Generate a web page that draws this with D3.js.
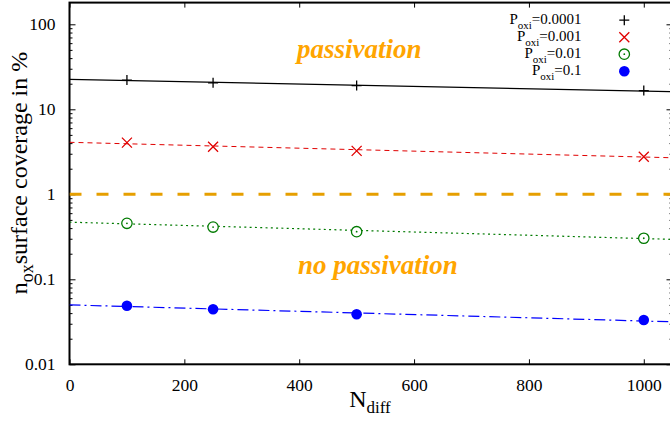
<!DOCTYPE html>
<html>
<head>
<meta charset="utf-8">
<script src="https://cdnjs.cloudflare.com/ajax/libs/d3/7.8.5/d3.min.js"></script>
<style>
  body { margin: 0; background: #fff; }
</style>
</head>
<body>
<svg id="chart"></svg>
<script>
// values
var nDiff = [100, 250, 500, 1000];
var pLabels = ["0.0001", "0.001", "0.01", "0.1"];
var cov0001 = [22.1, 20.5, 19.0, 16.6];
var cov001  = [4.05, 3.63, 3.24, 2.77];
var cov01   = [0.456, 0.412, 0.363, 0.304];
var cov1    = [0.0489, 0.0444, 0.0388, 0.0332];
// fitted lines, value at N=0 and at N=1050
var fitN    = [0, 1050];
var fit0001 = [22.5, 16.1];
var fit001  = [4.09, 2.69];
var fit01   = [0.47, 0.295];
var fit1    = [0.050, 0.0316];
var threshold = 1;
var xTicks = [0, 200, 400, 600, 800, 1000];
var yTicks = [100, 10, 1, 0.1, 0.01];
var yTickLabels = ["100", "10", "1", "0.1", "0.01"];

var serif = '"Liberation Serif", "Times New Roman", Times, serif';
var width = 670, height = 421;
var box = {left: 69.5, right: 672.5, top: 2.6, bottom: 364.3};

var svg = d3.select('#chart')
            .attr('width', width)
            .attr('height', height)
            .style('font-family', serif);

var xScale = d3.scaleLinear().domain([0, 1050]).range([box.left, box.right]);
var yScale = d3.scaleLog().domain([0.01, 180]).range([box.bottom, box.top]);

svg.append('clipPath').attr('id', 'clip')
   .append('rect')
   .attr('x', box.left).attr('y', box.top)
   .attr('width', box.right - box.left).attr('height', box.bottom - box.top);

// minor log ticks
var minor = [];
[0.01, 0.1, 1, 10, 100].forEach(function(d){
  for (var k = 2; k <= 9; k++) { if (d * k < 180) minor.push(d * k); }
});

var yAxis = d3.axisLeft(yScale)
              .tickValues(yTicks)
              .tickSize(-6)
              .tickPadding(14)
              .tickFormat(function(d, i){ return yTickLabels[i]; });
var gy = svg.append('g')
            .attr('transform', 'translate(' + box.left + ',0)')
            .call(yAxis);
gy.select('.domain').remove();

var gyMinor = svg.append('g')
            .attr('transform', 'translate(' + box.left + ',0)')
            .call(d3.axisLeft(yScale).tickValues(minor).tickSize(-3).tickFormat(''));
gyMinor.select('.domain').remove();

var gyR = svg.append('g')
            .attr('transform', 'translate(' + box.right + ',0)')
            .call(d3.axisRight(yScale).tickValues(yTicks).tickSize(-6).tickFormat(''));
gyR.select('.domain').remove();
var gyRMinor = svg.append('g')
            .attr('transform', 'translate(' + box.right + ',0)')
            .call(d3.axisRight(yScale).tickValues(minor).tickSize(-3).tickFormat(''));
gyRMinor.select('.domain').remove();

var xAxis = d3.axisBottom(xScale)
              .tickValues(xTicks)
              .tickSize(-5)
              .tickFormat(d3.format('d'));
var gx = svg.append('g')
            .attr('transform', 'translate(0,' + box.bottom + ')')
            .call(xAxis);
gx.select('.domain').remove();
gx.selectAll('text').attr('y', 26.5).attr('dy', 0);

var gxTop = svg.append('g')
            .attr('transform', 'translate(0,' + box.top + ')')
            .call(d3.axisTop(xScale).tickValues(xTicks).tickSize(-5).tickFormat(''));
gxTop.select('.domain').remove();

svg.selectAll('g').attr('font-family', serif);
svg.selectAll('.tick text')
   .style('font-family', serif).style('font-size', '17.5px').attr('fill', '#000');
svg.selectAll('.tick line').attr('stroke', '#000').attr('stroke-width', 1);

// frame
svg.append('rect')
   .attr('x', box.left).attr('y', box.top)
   .attr('width', box.right - box.left).attr('height', box.bottom - box.top)
   .attr('fill', 'none').attr('stroke', '#000').attr('stroke-width', 2);

var plot = svg.append('g').attr('clip-path', 'url(#clip)');

// threshold
plot.append('line')
    .attr('x1', xScale(0)).attr('x2', xScale(1050))
    .attr('y1', yScale(threshold)).attr('y2', yScale(threshold))
    .attr('stroke', '#e69f00').attr('stroke-width', 3)
    .attr('stroke-dasharray', '12,15');

var series = [
  {vals: cov0001, fit: fit0001, color: '#000000', dash: null, width: 1.2, mark: 'plus'},
  {vals: cov001,  fit: fit001,  color: '#e00000', dash: '5,4', width: 1, mark: 'cross'},
  {vals: cov01,   fit: fit01,   color: '#007a00', dash: '2,3.3', width: 1.2, mark: 'dotcircle'},
  {vals: cov1,    fit: fit1,    color: '#0000ff', dash: '11,4,2,4', width: 1.2, mark: 'disc'}
];

var line = d3.line()
             .x(function(d){ return xScale(d[0]); })
             .y(function(d){ return yScale(d[1]); });

function drawMark(g, type, cx, cy, color) {
  if (type === 'plus') {
    g.append('path').attr('d', 'M' + (cx - 5) + ',' + cy + 'H' + (cx + 5) + 'M' + cx + ',' + (cy - 5) + 'V' + (cy + 5))
     .attr('stroke', color).attr('stroke-width', 1.3).attr('fill', 'none');
  } else if (type === 'cross') {
    g.append('path').attr('d', 'M' + (cx - 5) + ',' + (cy - 5) + 'L' + (cx + 5) + ',' + (cy + 5) + 'M' + (cx - 5) + ',' + (cy + 5) + 'L' + (cx + 5) + ',' + (cy - 5))
     .attr('stroke', color).attr('stroke-width', 1.3).attr('fill', 'none');
  } else if (type === 'dotcircle') {
    g.append('circle').attr('cx', cx).attr('cy', cy).attr('r', 5.2)
     .attr('stroke', color).attr('stroke-width', 1.3).attr('fill', '#fff');
    g.append('circle').attr('cx', cx).attr('cy', cy).attr('r', 0.9).attr('fill', color);
  } else {
    g.append('circle').attr('cx', cx).attr('cy', cy).attr('r', 5.3).attr('fill', color);
  }
}

series.forEach(function(s){
  plot.append('path')
      .datum(fitN.map(function(n, i){ return [n, s.fit[i]]; }))
      .attr('fill', 'none')
      .attr('stroke', s.color)
      .attr('stroke-width', s.width)
      .attr('stroke-dasharray', s.dash)
      .attr('d', line);
  var g = plot.append('g');
  nDiff.forEach(function(n, i){
    drawMark(g, s.mark, xScale(n), yScale(s.vals[i]), s.color);
  });
});

// region annotations
svg.append('text')
   .attr('x', 297).attr('y', 58)
   .attr('fill', '#ffa500')
   .style('font-family', serif)
   .style('font-size', '27px').style('font-weight', 'bold').style('font-style', 'italic')
   .text('passivation');
svg.append('text')
   .attr('x', 298).attr('y', 274)
   .attr('fill', '#ffa500')
   .style('font-family', serif)
   .style('font-size', '27px').style('font-weight', 'bold').style('font-style', 'italic')
   .text('no passivation');

// legend
var legend = svg.append('g');
pLabels.forEach(function(p, i){
  var base = 24 + i * 17;
  var t = legend.append('text')
                .attr('x', 581.5).attr('y', base)
                .attr('text-anchor', 'end')
                .style('font-family', serif)
                .style('font-size', '15px').attr('fill', '#000');
  t.append('tspan').text('P');
  t.append('tspan').attr('dy', 5).style('font-size', '11px').text('oxi');
  t.append('tspan').attr('dy', -5).text('=' + p);
  drawMark(legend, series[i].mark, 624.3, base - 3.8, series[i].color);
});

// axis titles
var xt = svg.append('text')
            .attr('x', 370).attr('y', 406.7)
            .attr('text-anchor', 'middle')
            .style('font-family', serif)
            .style('font-size', '24px').attr('fill', '#000');
xt.append('tspan').text('N');
xt.append('tspan').attr('dy', 6).style('font-size', '17px').text('diff');

var yt = svg.append('text')
            .attr('transform', 'translate(27,173) rotate(-90)')
            .attr('text-anchor', 'middle')
            .style('font-family', serif)
            .style('font-size', '24px').attr('fill', '#000');
yt.append('tspan').text('n');
yt.append('tspan').attr('dy', 6).style('font-size', '18px').text('ox');
yt.append('tspan').attr('dy', -6).text('surface coverage in %');
</script>
</body>
</html>
